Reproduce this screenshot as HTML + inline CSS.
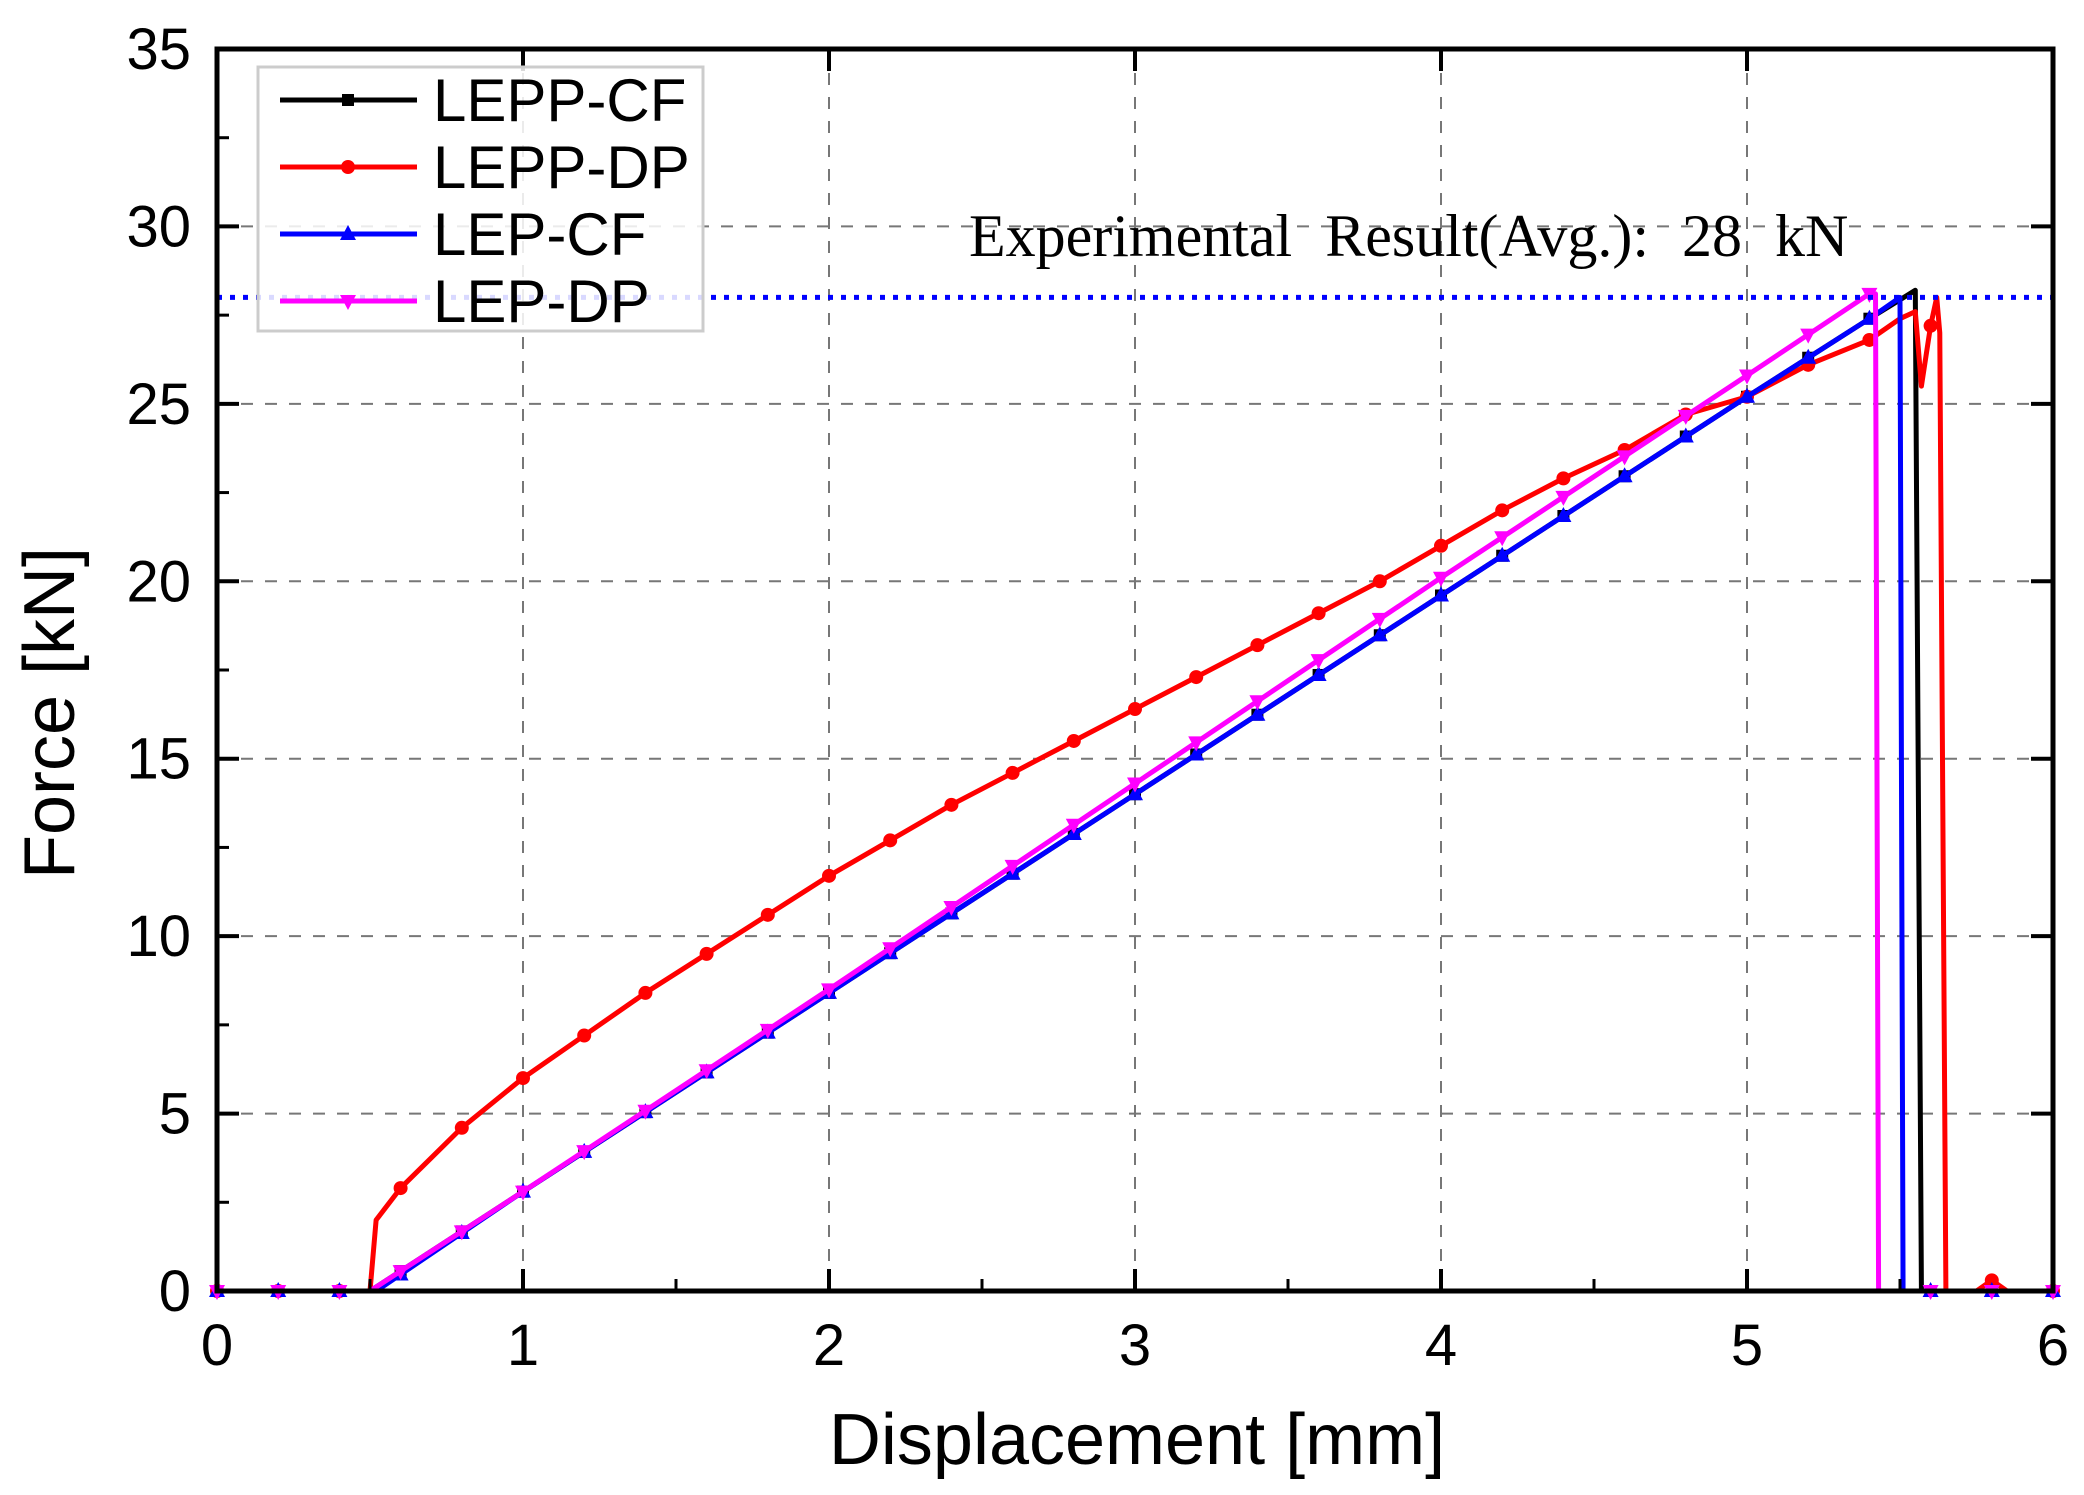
<!DOCTYPE html>
<html><head><meta charset="utf-8"><style>
html,body{margin:0;padding:0;background:#fff;}
svg{display:block;font-family:"Liberation Sans",sans-serif;}
</style></head><body>
<svg id="chart" width="2084" height="1495" viewBox="0 0 2084 1495" xmlns="http://www.w3.org/2000/svg">
<g id="grid"></g>
<g id="series"></g>
<g id="axes"></g>
<text x="1137" y="1464" font-size="72" text-anchor="middle">Displacement [mm]</text>
<text transform="translate(74,713) rotate(-90)" font-size="72" text-anchor="middle">Force [kN]</text>
<text x="969" y="256" font-size="60" font-family="Liberation Serif,serif" word-spacing="18">Experimental Result(Avg.): 28 kN</text>
<g id="legend"></g>
</svg>
<script>
const xTicks=[0,1,2,3,4,5,6];
const yTicks=[0,5,10,15,20,25,30,35];
const seriesNames=["LEPP-CF","LEPP-DP","LEP-CF","LEP-DP"];
const colors=["#000000","#ff0000","#0000ff","#ff00ff"];
const lepp_cf_x=[0,0.5,1,2,3,4,5,5.4,5.55,5.57,5.6,6];
const lepp_cf_y=[0,0,2.8,8.4,14.0,19.6,25.2,27.4,28.2,0,0,0];
const lepp_dp_x=[0,0.5,0.52,0.6,0.8,1,1.2,1.4,1.6,1.8,2,2.2,2.4,2.6,2.8,3,3.2,3.4,3.6,3.8,4,4.2,4.4,4.6,4.8,5,5.2,5.4,5.5,5.55,5.57,5.6,5.62,5.63,5.65,5.75,5.8,5.85,6];
const lepp_dp_y=[0,0,2.0,2.9,4.6,6.0,7.2,8.4,9.5,10.6,11.7,12.7,13.7,14.6,15.5,16.4,17.3,18.2,19.1,20.0,21.0,22.0,22.9,23.7,24.7,25.2,26.1,26.8,27.4,27.6,25.5,27.2,28.0,27.0,0,0,0.3,0,0];
const lep_cf_x=[0,0.52,1,2,3,4,5,5.4,5.5,5.51,6];
const lep_cf_y=[0,0,2.8,8.4,14.0,19.6,25.2,27.4,28.0,0,0];
const lep_dp_x=[0,0.5,1,2,3,4,5,5.4,5.42,5.43,6];
const lep_dp_y=[0,0,2.8,8.5,14.3,20.1,25.8,28.1,28.1,0,0];
const expValue=28;

const L=217,R=2053,T=49,B=1291;
const X=v=>L+(R-L)*v/6, Y=v=>B-(B-T)*v/35;
const NS="http://www.w3.org/2000/svg";
function mk(tag,attrs,parent){const e=document.createElementNS(NS,tag);for(const k in attrs)e.setAttribute(k,attrs[k]);parent.appendChild(e);return e;}
const grid=document.getElementById('grid'),axes=document.getElementById('axes'),ser=document.getElementById('series'),leg=document.getElementById('legend');
xTicks.forEach(t=>{
 if(t>0&&t<6){const g=mk('line',{x1:X(t),x2:X(t),y1:T,y2:B,stroke:'#777','stroke-width':2,'stroke-dasharray':'12,12'},grid);
 
 }
 const tk=mk('line',{x1:X(t),x2:X(t),y1:B,y2:B-22,stroke:'#000','stroke-width':4},axes);
 
 
 const tk2=mk('line',{x1:X(t),x2:X(t),y1:T,y2:T+22,stroke:'#000','stroke-width':4},axes);
 
 
 const lb=mk('text',{x:X(t),y:B+74,'font-size':58,'text-anchor':'middle'},axes);lb.textContent=t;
 
 
 if(t<6){const m=mk('line',{x1:X(t+0.5),x2:X(t+0.5),y1:B,y2:B-12,stroke:'#000','stroke-width':3},axes);
 
 }
});
yTicks.forEach(t=>{
 if(t>0&&t<35){const g=mk('line',{x1:L,x2:R,y1:Y(t),y2:Y(t),stroke:'#777','stroke-width':2,'stroke-dasharray':'12,12'},grid);
 
 }
 const tk=mk('line',{x1:L,x2:L+22,y1:Y(t),y2:Y(t),stroke:'#000','stroke-width':4},axes);
 
 
 const tk2=mk('line',{x1:R,x2:R-22,y1:Y(t),y2:Y(t),stroke:'#000','stroke-width':4},axes);
 
 
 const lb=mk('text',{x:L-26,y:Y(t)+20,'font-size':58,'text-anchor':'end'},axes);lb.textContent=t;
 
 
 if(t<35){const m=mk('line',{x1:L,x2:L+12,y1:Y(t+2.5),y2:Y(t+2.5),stroke:'#000','stroke-width':3},axes);
 
 }
});
const frame=mk('rect',{x:L,y:T,width:R-L,height:B-T,fill:'none',stroke:'#000','stroke-width':5},axes);



function marker(kind,x,y,c,p){
 let e;
 if(kind==0)e=mk('rect',{x:x-6,y:y-6,width:12,height:12,fill:c},p);
 else if(kind==1)e=mk('circle',{cx:x,cy:y,r:7,fill:c},p);
 else if(kind==2)e=mk('polygon',{points:`${x},${y-9} ${x-8},${y+6} ${x+8},${y+6}`,fill:c},p);
 else e=mk('polygon',{points:`${x},${y+9} ${x-8},${y-6} ${x+8},${y-6}`,fill:c},p);
 return e;
}
function interp(xs,ys,v){for(let i=1;i<xs.length;i++){if(xs[i]>=v){const a=xs[i-1],b=xs[i];return b==a?ys[i]:ys[i-1]+(ys[i]-ys[i-1])*(v-a)/(b-a);}}return ys[ys.length-1];}
const sets=[[lepp_cf_x,lepp_cf_y],[lepp_dp_x,lepp_dp_y],[lep_cf_x,lep_cf_y],[lep_dp_x,lep_dp_y]];
sets.forEach((s,i)=>{
 const g=mk('g',{},ser);
 
 
 const pl=mk('polyline',{points:s[0].map((x,j)=>X(x)+','+Y(s[1][j])).join(' '),fill:'none',stroke:colors[i],'stroke-width':5,'stroke-linejoin':'round'},g);
 
 
 for(let k=0;k<=30;k++){const v=k*0.2;const yv=interp(s[0],s[1],v);
  const m=marker(i,X(v),Y(yv),colors[i],g);
  
  }
});
const ex=mk('line',{x1:L,x2:R,y1:Y(expValue),y2:Y(expValue),stroke:'#0000ff','stroke-width':5,'stroke-dasharray':'5,8'},ser);



const box=mk('rect',{x:258,y:67,width:445,height:264,fill:'#fff','fill-opacity':0.85,stroke:'#ccc','stroke-width':3},leg);


seriesNames.forEach((n,i)=>{
 const y=100+i*67;
 const g=mk('g',{},leg);
 
 
 mk('line',{x1:280,x2:417,y1:y,y2:y,stroke:colors[i],'stroke-width':5},g);
 marker(i,348,y,colors[i],g);
 const t=mk('text',{x:433,y:y+21,'font-size':60},g);t.textContent=n;
});
</script>
</body></html>
